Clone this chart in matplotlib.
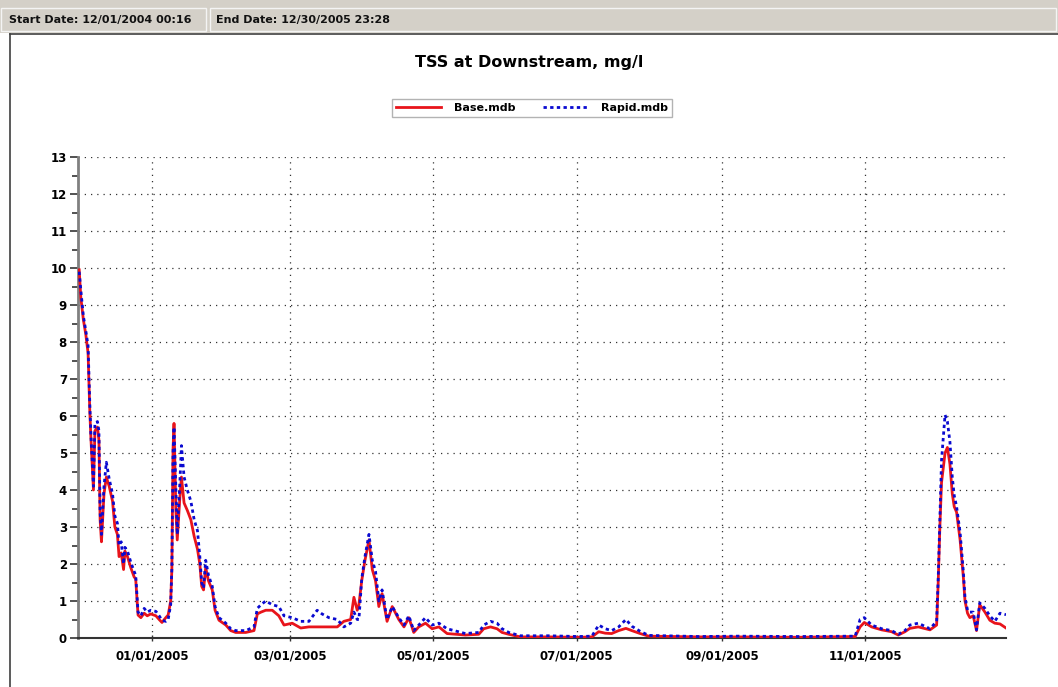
import pandas as pd
import matplotlib.pyplot as plt
import matplotlib.dates as mdates
from matplotlib.patches import Rectangle
from matplotlib.lines import Line2D

dates = [
    "2004-12-01 00:16", "2004-12-01 17:00", "2004-12-02 19:00", "2004-12-03 20:00",
    "2004-12-04 19:00", "2004-12-05 13:00", "2004-12-06 00:00", "2004-12-07 02:00",
    "2004-12-07 17:00", "2004-12-08 19:00", "2004-12-09 10:00", "2004-12-09 22:00",
    "2004-12-10 12:00", "2004-12-11 14:00", "2004-12-12 14:00", "2004-12-13 19:00",
    "2004-12-15 05:00", "2004-12-16 05:00", "2004-12-17 07:00", "2004-12-18 00:00",
    "2004-12-18 22:00", "2004-12-19 22:00", "2004-12-20 12:00", "2004-12-21 14:00",
    "2004-12-23 00:00", "2004-12-24 10:00", "2004-12-25 02:00", "2004-12-26 02:00",
    "2004-12-27 07:00", "2004-12-28 17:00", "2004-12-30 00:00", "2004-12-31 12:00",
    "2005-01-02 17:00", "2005-01-04 02:00", "2005-01-05 07:00", "2005-01-06 22:00",
    "2005-01-07 22:00", "2005-01-09 00:00", "2005-01-09 12:00", "2005-01-10 00:00",
    "2005-01-10 10:00", "2005-01-11 05:00", "2005-01-11 19:00", "2005-01-12 22:00",
    "2005-01-13 14:00", "2005-01-14 17:00", "2005-01-16 02:00", "2005-01-17 14:00",
    "2005-01-19 00:00", "2005-01-20 10:00", "2005-01-21 10:00", "2005-01-22 05:00",
    "2005-01-23 00:00", "2005-01-23 22:00", "2005-01-25 02:00", "2005-01-26 17:00",
    "2005-01-27 22:00", "2005-01-29 14:00", "2005-02-01 12:00", "2005-02-03 14:00",
    "2005-02-05 17:00", "2005-02-10 00:00", "2005-02-13 12:00", "2005-02-14 22:00",
    "2005-02-16 12:00", "2005-02-18 12:00", "2005-02-21 07:00", "2005-02-24 02:00",
    "2005-02-26 07:00", "2005-03-01 19:00", "2005-03-05 10:00", "2005-03-08 22:00",
    "2005-03-12 10:00", "2005-03-14 12:00", "2005-03-17 10:00", "2005-03-21 00:00",
    "2005-03-23 19:00", "2005-03-26 17:00", "2005-03-28 02:00", "2005-03-29 12:00",
    "2005-03-30 05:00", "2005-03-31 10:00", "2005-04-01 19:00", "2005-04-03 12:00",
    "2005-04-04 22:00", "2005-04-06 07:00", "2005-04-07 17:00", "2005-04-09 02:00",
    "2005-04-11 05:00", "2005-04-13 10:00", "2005-04-16 05:00", "2005-04-18 10:00",
    "2005-04-20 12:00", "2005-04-22 14:00", "2005-04-24 17:00", "2005-04-27 14:00",
    "2005-04-30 10:00", "2005-05-03 07:00", "2005-05-06 19:00", "2005-05-14 14:00",
    "2005-05-20 07:00", "2005-05-22 10:00", "2005-05-25 07:00", "2005-05-28 02:00",
    "2005-05-30 05:00", "2005-06-02 02:00", "2005-06-07 00:00", "2005-06-19 02:00",
    "2005-07-01 22:00", "2005-07-07 12:00", "2005-07-10 10:00", "2005-07-13 05:00",
    "2005-07-15 22:00", "2005-07-18 22:00", "2005-07-22 00:00", "2005-07-24 12:00",
    "2005-07-28 02:00", "2005-07-31 17:00", "2005-08-21 22:00", "2005-09-08 00:00",
    "2005-10-03 12:00", "2005-10-27 17:00", "2005-10-29 19:00", "2005-10-31 14:00",
    "2005-11-03 17:00", "2005-11-08 00:00", "2005-11-12 05:00", "2005-11-15 02:00",
    "2005-11-17 22:00", "2005-11-20 00:00", "2005-11-23 14:00", "2005-11-28 14:00",
    "2005-12-01 10:00", "2005-12-02 02:00", "2005-12-02 19:00", "2005-12-03 12:00",
    "2005-12-05 00:00", "2005-12-06 00:00", "2005-12-07 02:00", "2005-12-08 02:00",
    "2005-12-08 22:00", "2005-12-09 22:00", "2005-12-11 10:00", "2005-12-12 19:00",
    "2005-12-13 12:00", "2005-12-14 14:00", "2005-12-15 14:00", "2005-12-17 00:00",
    "2005-12-18 10:00", "2005-12-19 19:00", "2005-12-22 00:00", "2005-12-24 02:00",
    "2005-12-26 05:00", "2005-12-28 10:00", "2005-12-30 23:28",
]

# TSS, mg/l - Base.mdb
base = [
    9.95, 9.2, 8.6, 8.2, 7.7, 6.1, 5.4, 4.0, 5.6, 5.7, 5.35, 3.2,
    2.6, 3.9, 4.35, 4.1, 3.7, 3.0, 2.8, 2.2, 2.3, 1.85, 2.35, 2.2,
    1.9, 1.65, 1.6, 0.62, 0.55, 0.67, 0.6, 0.65,
    0.6, 0.5, 0.42, 0.55, 0.62, 1.0, 1.85, 5.1, 5.8, 3.45, 2.65, 3.8,
    4.35, 3.65, 3.45, 3.2, 2.75, 2.4, 2.0, 1.4, 1.3, 1.9, 1.55, 1.3,
    0.75, 0.48, 0.35, 0.2, 0.15, 0.15, 0.2, 0.65, 0.7, 0.75, 0.75, 0.6,
    0.35, 0.4, 0.27, 0.3, 0.3, 0.3, 0.3, 0.3, 0.45, 0.5, 1.1, 0.75,
    0.9, 1.55, 2.1, 2.65, 1.85, 1.55, 0.85, 1.2, 0.45, 0.85, 0.5, 0.3,
    0.55, 0.15, 0.3, 0.4, 0.25, 0.3, 0.12, 0.08, 0.1, 0.25, 0.3, 0.25,
    0.15, 0.1, 0.03, 0.03, 0.02, 0.03, 0.17, 0.13, 0.12, 0.2, 0.26, 0.2,
    0.12, 0.05, 0.03, 0.03, 0.02, 0.04, 0.3, 0.42, 0.3, 0.22, 0.17, 0.08,
    0.17, 0.26, 0.3, 0.22, 0.35, 1.5, 3.0, 4.2, 5.0, 5.15, 4.7, 3.9,
    3.55, 3.4, 2.65, 1.65, 1.0, 0.67, 0.55, 0.6, 0.2, 0.9, 0.7, 0.48,
    0.4, 0.38, 0.27,
]

# TSS, mg/l - Rapid.mdb
rapid = [
    9.9, 9.4, 8.7, 8.3, 7.9, 6.3, 5.5, 4.1, 5.8, 5.85, 5.6, 3.4,
    2.8, 4.1, 4.75, 4.3, 3.9, 3.3, 3.1, 2.5, 2.6, 2.0, 2.45, 2.35,
    2.05, 1.8, 1.7, 0.7, 0.6, 0.8, 0.7, 0.75,
    0.72, 0.6, 0.48, 0.45, 0.5, 0.9, 1.9, 5.0, 5.7, 4.0, 2.8, 4.2,
    5.2, 4.35, 4.0, 3.7, 3.2, 2.9, 2.2, 1.5, 1.35, 2.1, 1.7, 1.4,
    0.85, 0.55, 0.4, 0.25, 0.2, 0.2, 0.3, 0.8, 0.9, 1.0, 0.9, 0.85,
    0.6, 0.55, 0.45, 0.45, 0.75, 0.65, 0.55, 0.5, 0.3, 0.4, 0.7, 0.5,
    0.5, 1.6, 2.2, 2.8, 2.1, 1.8, 1.0, 1.3, 0.5, 0.85, 0.55, 0.35,
    0.6, 0.2, 0.35, 0.55, 0.35, 0.4, 0.25, 0.12, 0.15, 0.35, 0.45, 0.4,
    0.25, 0.15, 0.06, 0.06, 0.04, 0.05, 0.35, 0.25, 0.2, 0.3, 0.5, 0.32,
    0.18, 0.07, 0.04, 0.05, 0.04, 0.05, 0.5, 0.55, 0.35, 0.25, 0.2, 0.1,
    0.2, 0.35, 0.4, 0.25, 0.45, 1.6, 3.2, 4.8, 6.03, 5.85, 5.3, 4.35,
    3.85, 3.55, 2.85, 1.8, 1.1, 0.75, 0.7, 0.7, 0.22, 0.95, 0.8, 0.6,
    0.45, 0.67, 0.63,
]

x_ticks = ["2005-01-01", "2005-03-01", "2005-05-01", "2005-07-01", "2005-09-01", "2005-11-01"]
start_date = "2004-12-01 00:16"
end_date = "2005-12-30 23:28"

t = pd.to_datetime(dates)

fig = plt.figure(figsize=(10.58, 6.87), dpi=100)
fig.patch.set_facecolor("white")

W, H = 1058.0, 687.0

# header bar (grey strip with the two date boxes)
fig.patches.append(Rectangle((0, 1 - 33 / H), 1, 33 / H, transform=fig.transFigure,
                             facecolor="#d4d0c8", edgecolor="none", zorder=0))
fig.patches.append(Rectangle((1 / W, 1 - 31 / H), 205 / W, 23 / H, transform=fig.transFigure,
                             facecolor="#d4d0c8", edgecolor="#f4f4f4", lw=1, zorder=1))
fig.patches.append(Rectangle((210 / W, 1 - 31 / H), 846 / W, 23 / H, transform=fig.transFigure,
                             facecolor="#d4d0c8", edgecolor="#f4f4f4", lw=1, zorder=1))
fig.text(9 / W, 1 - 20 / H, "Start Date: 12/01/2004 00:16", fontsize=8, fontweight="bold",
         va="center", ha="left", color="#111111")
fig.text(216 / W, 1 - 20 / H, "End Date: 12/30/2005 23:28", fontsize=8, fontweight="bold",
         va="center", ha="left", color="#111111")
# white panel border
fig.lines.append(Line2D([10 / W, 10 / W], [0, 1 - 34 / H], transform=fig.transFigure,
                        color="#404040", lw=1.2))
fig.lines.append(Line2D([10 / W, 1], [1 - 34 / H, 1 - 34 / H], transform=fig.transFigure,
                        color="#404040", lw=1.2))

ax = fig.add_axes([78 / W, 1 - 638 / H, (1006 - 78) / W, (638 - 157) / H])

ax.plot(t, base, color="#e8141b", lw=2.0, label="Base.mdb", zorder=3)
ax.plot(t, rapid, color="#0a0ad0", lw=2.0, ls=(0, (1.2, 1.2)), label="Rapid.mdb", zorder=4)

ax.set_xlim(pd.Timestamp("2004-11-30 12:00"), pd.Timestamp(end_date))
ax.set_ylim(0, 13)
ax.set_yticks(range(0, 14))
ax.set_yticks([i + 0.5 for i in range(13)], minor=True)
ax.set_xticks(pd.to_datetime(x_ticks))
ax.xaxis.set_major_formatter(mdates.DateFormatter("%m/%d/%Y"))

ax.grid(True, which="major", color="#333333", ls=(0, (1, 4)), lw=0.9)
for s in ["top", "right"]:
    ax.spines[s].set_visible(False)
ax.spines["left"].set_color("#808080")
ax.spines["left"].set_linewidth(2)
ax.spines["bottom"].set_color("#333333")
ax.spines["bottom"].set_linewidth(1.5)

ax.tick_params(axis="y", which="major", length=6, width=1.2, color="#333333",
               labelsize=8.5, pad=2)
ax.tick_params(axis="y", which="minor", length=4, width=1.2, color="#333333")
ax.tick_params(axis="x", which="major", length=4, width=1, color="#333333",
               direction="inout", labelsize=8.5, pad=6)
for lab in ax.get_xticklabels() + ax.get_yticklabels():
    lab.set_fontweight("bold")

fig.text(0.5, 1 - 62 / H, "TSS at Downstream, mg/l", ha="center", va="center",
         fontsize=11.5, fontweight="bold")

leg = fig.legend(loc="center", bbox_to_anchor=(532 / W, 1 - 108 / H), ncol=2,
                 fontsize=8, frameon=True, fancybox=False, handlelength=4,
                 columnspacing=2.5, handletextpad=1.2, borderpad=0.35)
leg.get_frame().set_edgecolor("#a0a0a0")
leg.get_frame().set_linewidth(1)
for txt in leg.get_texts():
    txt.set_fontweight("bold")

plt.savefig("out.png", dpi=100)
